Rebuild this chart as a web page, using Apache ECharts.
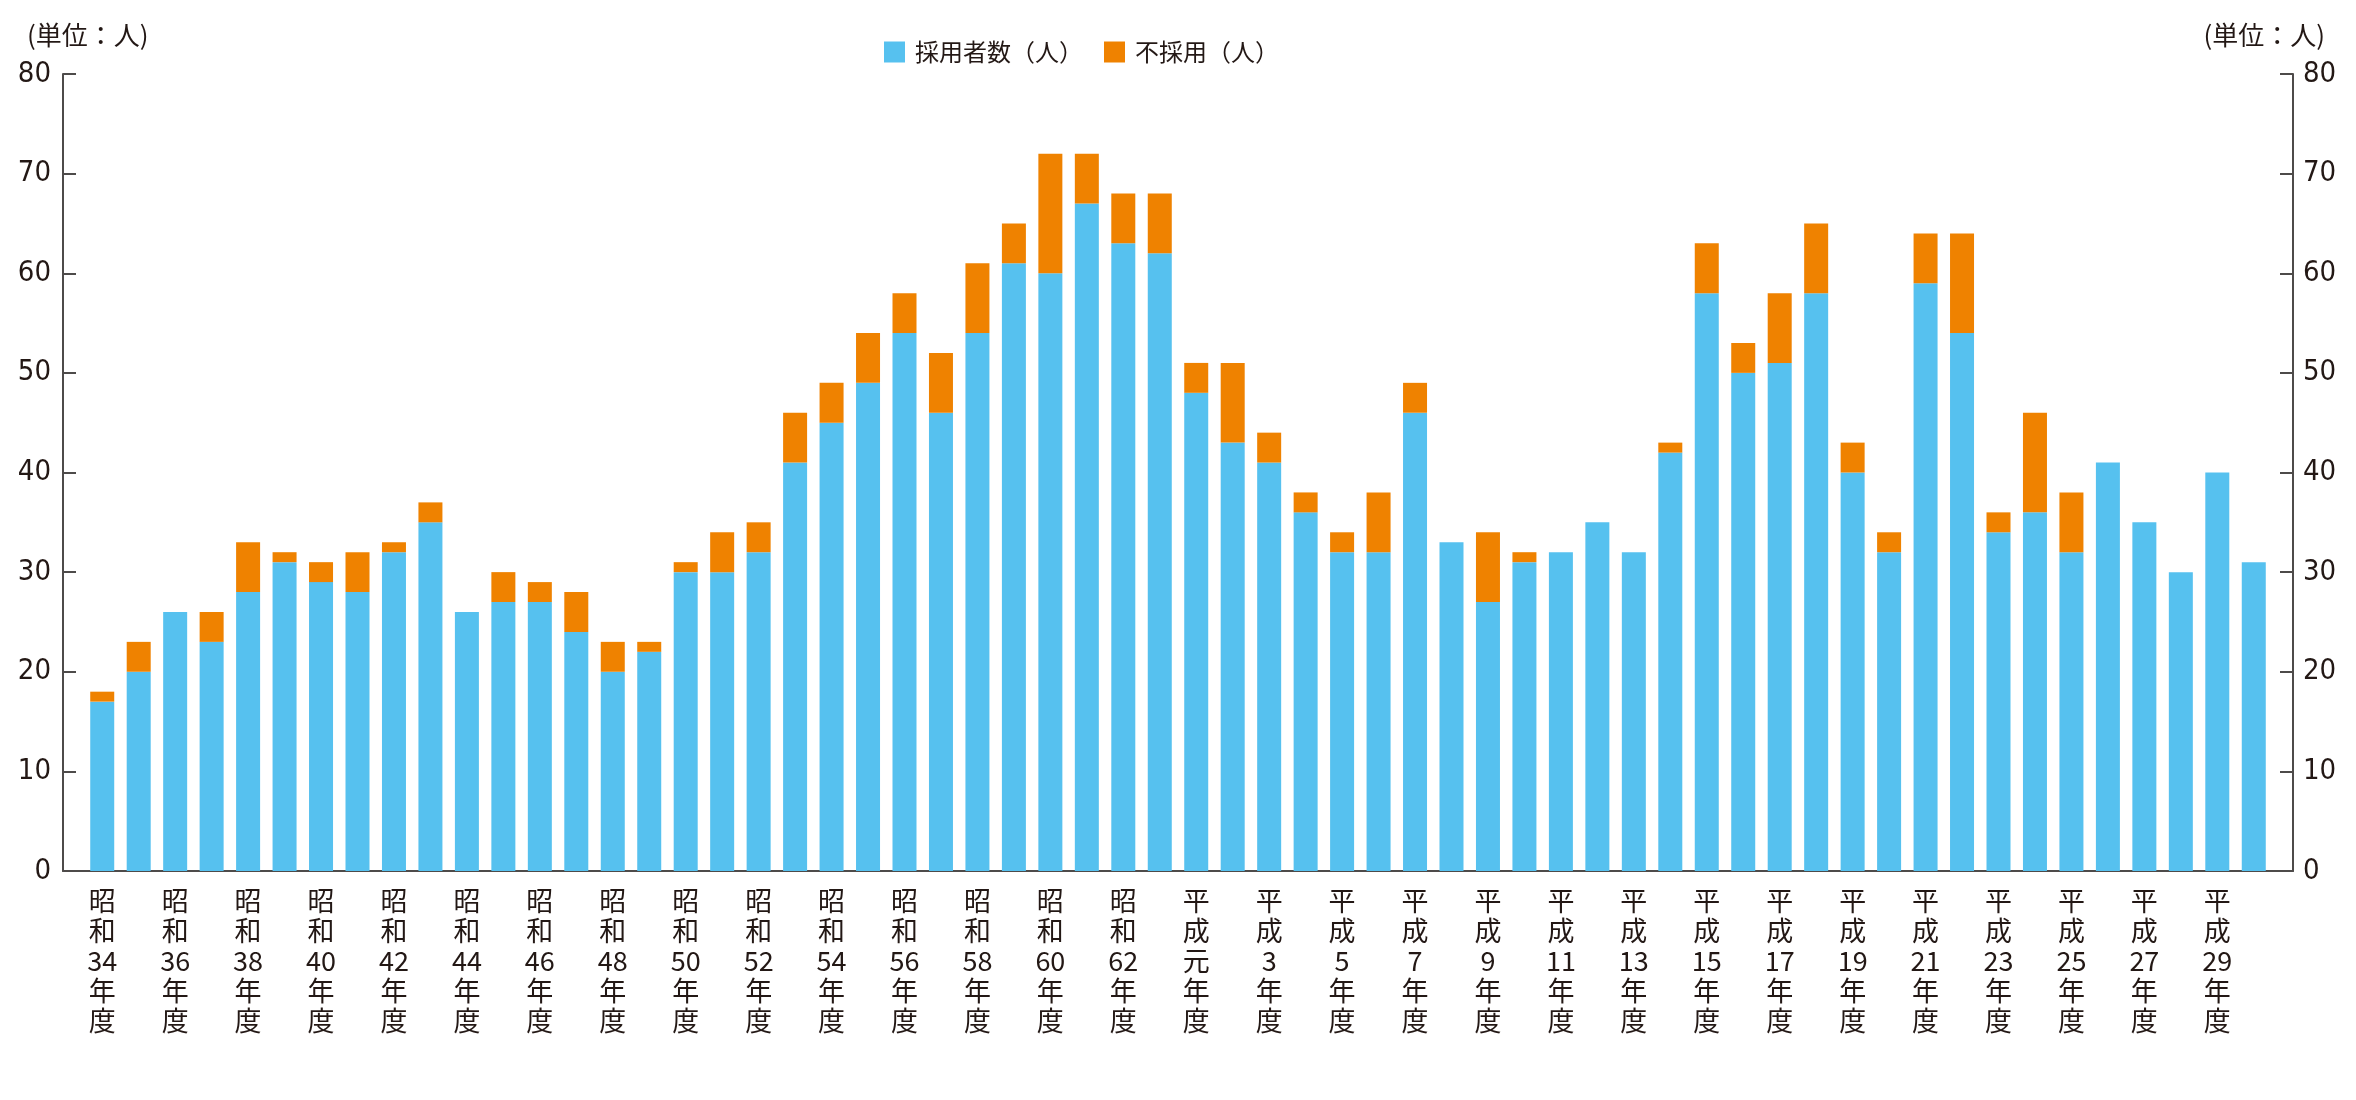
<!DOCTYPE html>
<html>
<head>
<meta charset="utf-8">
<script src="https://cdn.jsdelivr.net/npm/echarts@6/dist/echarts.min.js"></script>
<style>
html,body{margin:0;padding:0;background:#fff;}
#chart{width:2356px;height:1100px;}
</style>
</head>
<body>
<div id="chart"></div>
<script>
// ---- data ----
const categories = [
  "昭和34年度","昭和35年度","昭和36年度","昭和37年度","昭和38年度","昭和39年度","昭和40年度","昭和41年度","昭和42年度","昭和43年度",
  "昭和44年度","昭和45年度","昭和46年度","昭和47年度","昭和48年度","昭和49年度","昭和50年度","昭和51年度","昭和52年度","昭和53年度",
  "昭和54年度","昭和55年度","昭和56年度","昭和57年度","昭和58年度","昭和59年度","昭和60年度","昭和61年度","昭和62年度","昭和63年度",
  "平成元年度","平成2年度","平成3年度","平成4年度","平成5年度","平成6年度","平成7年度","平成8年度","平成9年度","平成10年度",
  "平成11年度","平成12年度","平成13年度","平成14年度","平成15年度","平成16年度","平成17年度","平成18年度","平成19年度","平成20年度",
  "平成21年度","平成22年度","平成23年度","平成24年度","平成25年度","平成26年度","平成27年度","平成28年度","平成29年度","平成30年度"
];
const adopted = [17,20,26,23,28,31,29,28,32,35, 26,27,27,24,20,22,30,30,32,41, 45,49,54,46,54,61,60,67,63,62,
                 48,43,41,36,32,32,46,33,27,31, 32,35,32,42,58,50,51,58,40,32, 59,54,34,36,32,41,35,30,40,31];
const rejected = [1,3,0,3,5,1,2,4,1,2, 0,3,2,4,3,1,1,4,3,5, 4,5,4,6,7,4,12,5,5,6,
                  3,8,3,2,2,6,3,0,7,1, 0,0,0,1,5,3,7,7,3,2, 5,10,2,10,6,0,0,0,0,0];
const seriesNames = ["採用者数（人）", "不採用（人）"];
const unitLabel = "(単位：人)";
const yMin = 0, yMax = 80, yStep = 10;

// ---- style ----
const TXT = '#231815';
const AX = '#4e4b4a';
const NUMFONT = "'Liberation Sans Narrow','DejaVu Sans Condensed','Noto Sans CJK JP',sans-serif";
const JPFONT = "'Noto Sans CJK JP','Liberation Sans Narrow',sans-serif";
const LBLFONT = "'Liberation Sans Narrow','Noto Sans CJK JP',sans-serif";

const chart = echarts.init(document.getElementById('chart'), null, {renderer:'canvas'});

const valueAxisCommon = {
  type: 'value', gridIndex: 0, min: yMin, max: yMax, interval: yStep,
  axisLine: {show: true, lineStyle: {color: AX, width: 2}},
  axisTick: {show: true, inside: true, length: 13, lineStyle: {color: AX, width: 2}},
  splitLine: {show: false},
  axisLabel: {color: TXT, fontSize: 29, fontFamily: NUMFONT}
};

chart.setOption({
  animation: false,
  backgroundColor: '#fff',
  title: [
    {text: unitLabel, left: 22, top: 17, textStyle: {fontSize: 26, fontWeight: 'normal', color: TXT, fontFamily: JPFONT}},
    {text: unitLabel, right: 26, top: 17, textStyle: {fontSize: 26, fontWeight: 'normal', color: TXT, fontFamily: JPFONT}}
  ],
  legend: {
    left: 879, top: 35,
    itemWidth: 21, itemHeight: 21, itemGap: 21,
    icon: 'rect',
    data: seriesNames,
    textStyle: {fontSize: 24, color: TXT, fontFamily: JPFONT, padding: [0,0,0,5]}
  },
  grid: [
    {left: 63, right: 63, top: 74, bottom: 229, containLabel: false},
    {left: 84, right: 84, top: 74, bottom: 229, containLabel: false}
  ],
  xAxis: [
    {type: 'value', gridIndex: 0, min: 0, max: 1, position: 'bottom',
     axisLine: {show: true, onZero: false, lineStyle: {color: AX, width: 2}},
     axisTick: {show: false}, axisLabel: {show: false}, splitLine: {show: false}},
    {type: 'category', gridIndex: 1, data: categories,
     axisLine: {show: false}, axisTick: {show: false}, splitLine: {show: false},
     axisLabel: {
       interval: 1, margin: 15, color: TXT, fontSize: 27, lineHeight: 30,
       fontFamily: LBLFONT, verticalAlign: 'top',
       formatter: v => v.match(/\d+|./g).join('\n')
     }}
  ],
  yAxis: [
    Object.assign({}, valueAxisCommon, {position: 'left', axisLabel: Object.assign({}, valueAxisCommon.axisLabel, {margin: 12})}),
    Object.assign({}, valueAxisCommon, {position: 'right', axisLabel: Object.assign({}, valueAxisCommon.axisLabel, {margin: 10})}),
    {type: 'value', gridIndex: 1, min: yMin, max: yMax, interval: yStep, show: false}
  ],
  series: [
    {name: seriesNames[0], type: 'bar', stack: 'total', xAxisIndex: 1, yAxisIndex: 2,
     barWidth: 24, data: adopted, itemStyle: {color: '#56C1EF'}},
    {name: seriesNames[1], type: 'bar', stack: 'total', xAxisIndex: 1, yAxisIndex: 2,
     barWidth: 24, data: rejected, itemStyle: {color: '#EF8200'}}
  ]
});
</script>
</body>
</html>
